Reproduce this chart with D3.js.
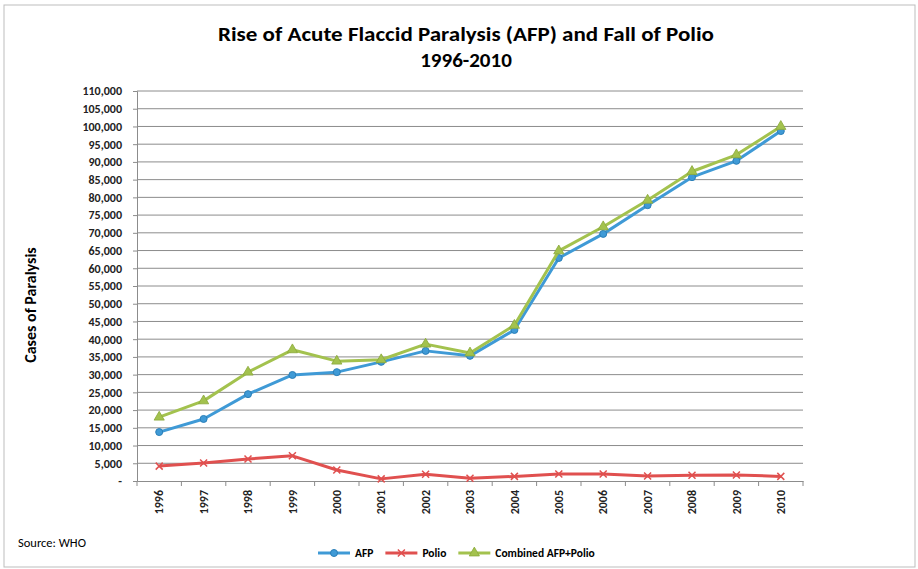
<!DOCTYPE html>
<html>
<head>
<meta charset="utf-8">
<script src="https://cdn.jsdelivr.net/npm/d3@7"></script>
<style>
  body { margin: 0; background: #fff; }
  text { font-family: Carlito, "Liberation Sans Narrow", "Open Sans", sans-serif; }
</style>
</head>
<body>
<div id="chart"></div>
<script>
const years = ["1996","1997","1998","1999","2000","2001","2002","2003","2004","2005","2006","2007","2008","2009","2010"];
const afp = [13800, 17500, 24500, 29900, 30700, 33600, 36700, 35300, 42600, 62900, 69700, 77800, 85700, 90300, 98700];
const polio = [4200, 5100, 6200, 7100, 3100, 600, 1900, 800, 1300, 2000, 2000, 1400, 1600, 1700, 1300];
const combined = [18000, 22600, 30700, 37000, 33800, 34200, 38600, 36100, 43900, 64900, 71700, 79200, 87300, 92000, 100000];
const yTicks = d3.range(0, 110001, 5000);

const width = 918, height = 569;
const plot = {left: 137, right: 803, top: 91, bottom: 481};

const svg = d3.select("#chart").append("svg")
    .attr("width", width)
    .attr("height", height);

// frame
svg.append("rect")
    .attr("x", 4).attr("y", 5)
    .attr("width", 911).attr("height", 562)
    .attr("fill", "#fff")
    .attr("stroke", "#bdbdbd");

const x = d3.scaleBand()
    .domain(years)
    .range([plot.left, plot.right]);

const y = d3.scaleLinear()
    .domain([0, 110000])
    .range([plot.bottom, plot.top]);

// gridlines
svg.append("g")
  .selectAll("line")
  .data(yTicks.filter(d => d > 0))
  .enter()
  .append("line")
    .attr("x1", plot.left).attr("x2", plot.right)
    .attr("y1", d => y(d)).attr("y2", d => y(d))
    .attr("stroke", "#8c8c8c")
    .attr("stroke-width", 1);

// y axis
const yAxis = svg.append("g")
    .attr("transform", "translate(" + plot.left + ",0)")
    .call(d3.axisLeft(y).tickValues(yTicks).tickSize(4).tickPadding(11)
      .tickFormat(d => d === 0 ? "-" : d3.format(",")(d)));
yAxis.select(".domain").attr("stroke", "#8c8c8c");
yAxis.selectAll(".tick line").attr("stroke", "#8c8c8c");
yAxis.selectAll("text")
    .style("font-size", "12px")
    .style("font-weight", "bold")
    .attr("fill", "#222");

// x axis
const xAxis = svg.append("g")
    .attr("transform", "translate(0," + plot.bottom + ")")
    .call(d3.axisBottom(x).tickSize(0).tickPadding(0));
xAxis.select(".domain").attr("stroke", "#8c8c8c");
xAxis.selectAll("text")
    .attr("transform", "rotate(-90)")
    .attr("x", -9).attr("y", 0).attr("dy", "0.35em")
    .attr("text-anchor", "end")
    .style("font-size", "12px")
    .style("font-weight", "bold")
    .attr("fill", "#222");
// category boundary ticks
xAxis.append("g")
  .selectAll("line")
  .data(years.concat(["end"]))
  .enter()
  .append("line")
    .attr("x1", (d, i) => plot.left + i * x.step())
    .attr("x2", (d, i) => plot.left + i * x.step())
    .attr("y1", 0).attr("y2", 5)
    .attr("stroke", "#8c8c8c");

const series = [
  {name: "AFP", values: afp, color: "#3f9ad6", marker: "circle"},
  {name: "Polio", values: polio, color: "#e0504f", marker: "cross"},
  {name: "Combined AFP+Polio", values: combined, color: "#a3c24e", marker: "triangle"}
];

const line = d3.line()
    .x((d, i) => x(years[i]) + x.bandwidth() / 2)
    .y(d => y(d));

function drawMarker(g, type, color, cx, cy) {
  if (type === "circle") {
    g.append("circle").attr("cx", cx).attr("cy", cy).attr("r", 3.5)
      .attr("fill", color).attr("stroke", "#2b7fb8").attr("stroke-width", 1);
  } else if (type === "cross") {
    g.append("path")
      .attr("d", "M" + (cx - 3.5) + "," + (cy - 3.5) + "L" + (cx + 3.5) + "," + (cy + 3.5) +
                 "M" + (cx - 3.5) + "," + (cy + 3.5) + "L" + (cx + 3.5) + "," + (cy - 3.5))
      .attr("stroke", color).attr("stroke-width", 1.5);
  } else {
    g.append("path")
      .attr("d", d3.symbol().type(d3.symbolTriangle).size(45)())
      .attr("transform", "translate(" + cx + "," + cy + ")")
      .attr("fill", color).attr("stroke", "#8aa83a").attr("stroke-width", 0.8);
  }
}

series.forEach(s => {
  svg.append("path")
    .datum(s.values)
    .attr("d", line)
    .attr("fill", "none")
    .attr("stroke", s.color)
    .attr("stroke-width", 3)
    .attr("stroke-linejoin", "round");
  const mg = svg.append("g");
  s.values.forEach((v, i) => drawMarker(mg, s.marker, s.color, x(years[i]) + x.bandwidth() / 2, y(v)));
});

// titles
svg.append("text")
    .attr("x", 466).attr("y", 41)
    .attr("text-anchor", "middle")
    .style("font-size", "21px").style("font-weight", "bold")
    .attr("textLength", 496).attr("lengthAdjust", "spacingAndGlyphs")
    .text("Rise of Acute Flaccid Paralysis (AFP) and Fall of Polio");
svg.append("text")
    .attr("x", 466).attr("y", 67)
    .attr("text-anchor", "middle")
    .style("font-size", "21px").style("font-weight", "bold")
    .text("1996-2010");

svg.append("text")
    .attr("transform", "translate(36,305) rotate(-90)")
    .attr("text-anchor", "middle")
    .style("font-size", "16px").style("font-weight", "bold")
    .text("Cases of Paralysis");

svg.append("text")
    .attr("x", 18).attr("y", 547)
    .style("font-size", "12.5px")
    .text("Source: WHO");

// legend
const legend = svg.append("g").attr("transform", "translate(318,553)");
let lx = 0;
series.forEach(s => {
  legend.append("line")
    .attr("x1", lx).attr("x2", lx + 32)
    .attr("y1", 0).attr("y2", 0)
    .attr("stroke", s.color).attr("stroke-width", 3);
  drawMarker(legend, s.marker, s.color, lx + 16, 0);
  const t = legend.append("text")
    .attr("x", lx + 37).attr("y", 0).attr("dy", "0.35em")
    .style("font-size", "11.5px").style("font-weight", "bold")
    .text(s.name);
  lx += 37 + t.node().getComputedTextLength() + 12;
});
</script>
</body>
</html>
